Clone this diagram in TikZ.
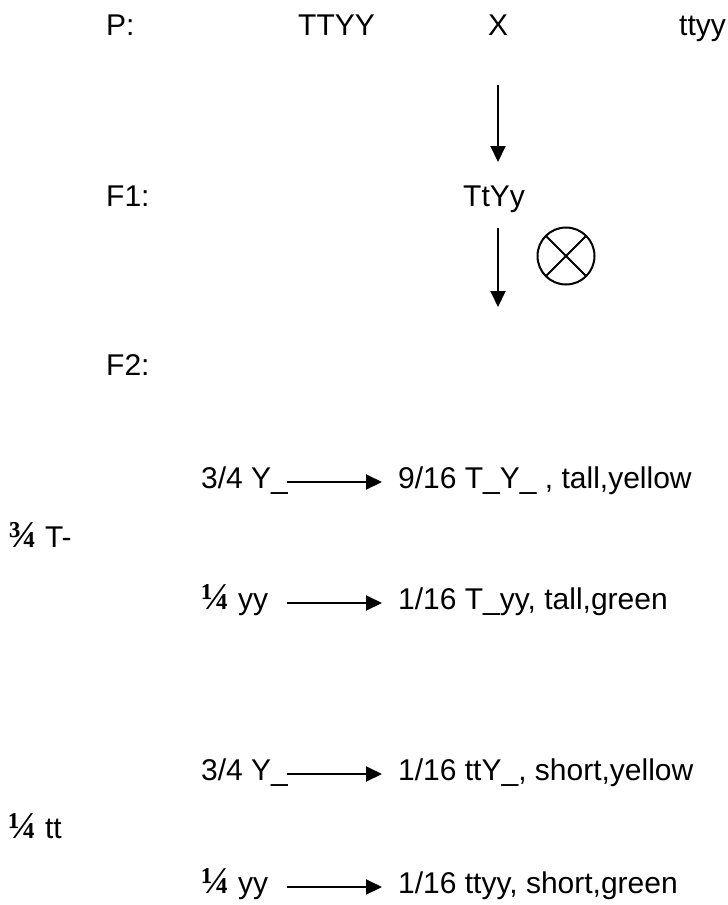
\documentclass[tikz,border=0pt]{standalone}
\usepackage{fontspec}
\setmainfont{Liberation Sans}
\newfontfamily\fracfont{Liberation Serif}
\usetikzlibrary{arrows.meta}

\newcommand\frc[1]{{\fracfont\bfseries\fontsize{38}{38}\selectfont #1}}

\begin{document}
\begin{tikzpicture}[x=1pt,y=-1pt]
\tikzstyle{txt} = [inner sep=0, anchor=base west, font=\fontsize{30}{35}\selectfont]
\tikzstyle{arr} = [line width=2pt, -{Triangle[width=15pt,length=16pt]}]

\useasboundingbox (0,0) rectangle (728,905);

% Parentali
\node[txt] (lblP) at (106,35) {P:};
\node[txt] (parA) at (298,35) {TTYY};
\node[txt] (cross) at (488,35) {X};
\node[txt] (parB) at (679,35) {ttyy};

% F1
\node[txt] (lblF1) at (106,206) {F1:};
\node[txt] (geno) at (463,206) {TtYy};

% frecce verticali
\coordinate (v1a) at (498,85);
\coordinate (v1b) at (498,162);
\coordinate (v2a) at (498,228);
\coordinate (v2b) at (498,307);
\draw[arr] (v1a) -- (v1b);
\draw[arr] (v2a) -- (v2b);

% autofecondazione
\node[draw, circle, line width=2pt, minimum size=57pt, inner sep=0, outer sep=0] (selfx) at (566,256) {};
\draw[line width=2pt] (selfx.45) -- (selfx.225);
\draw[line width=2pt] (selfx.135) -- (selfx.315);

% F2
\node[txt] (lblF2) at (106,375) {F2:};
\node[txt] (halfT) at (8,547) {\frc{¾} T-};
\node[txt] (halft) at (8,838) {\frc{¼} tt};

% righe F2
\foreach \n/\yb/\lhs/\rhs in {
  1/488/{3/4 Y\_}/{9/16 T\_Y\_ , tall,yellow},
  2/609/{\frc{¼} yy}/{1/16 T\_yy, tall,green},
  3/780/{3/4 Y\_}/{1/16 ttY\_, short,yellow},
  4/893/{\frc{¼} yy}/{1/16 ttyy, short,green}} {
  \node[txt] (l\n) at (201,\yb) {\lhs};
  \node[txt] (r\n) at (398,\yb) {\rhs};
  \draw[arr] ([xshift=86pt,yshift=6pt]l\n.base west) -- ([xshift=-16pt,yshift=6pt]r\n.base west);
}

\end{tikzpicture}
\end{document}
